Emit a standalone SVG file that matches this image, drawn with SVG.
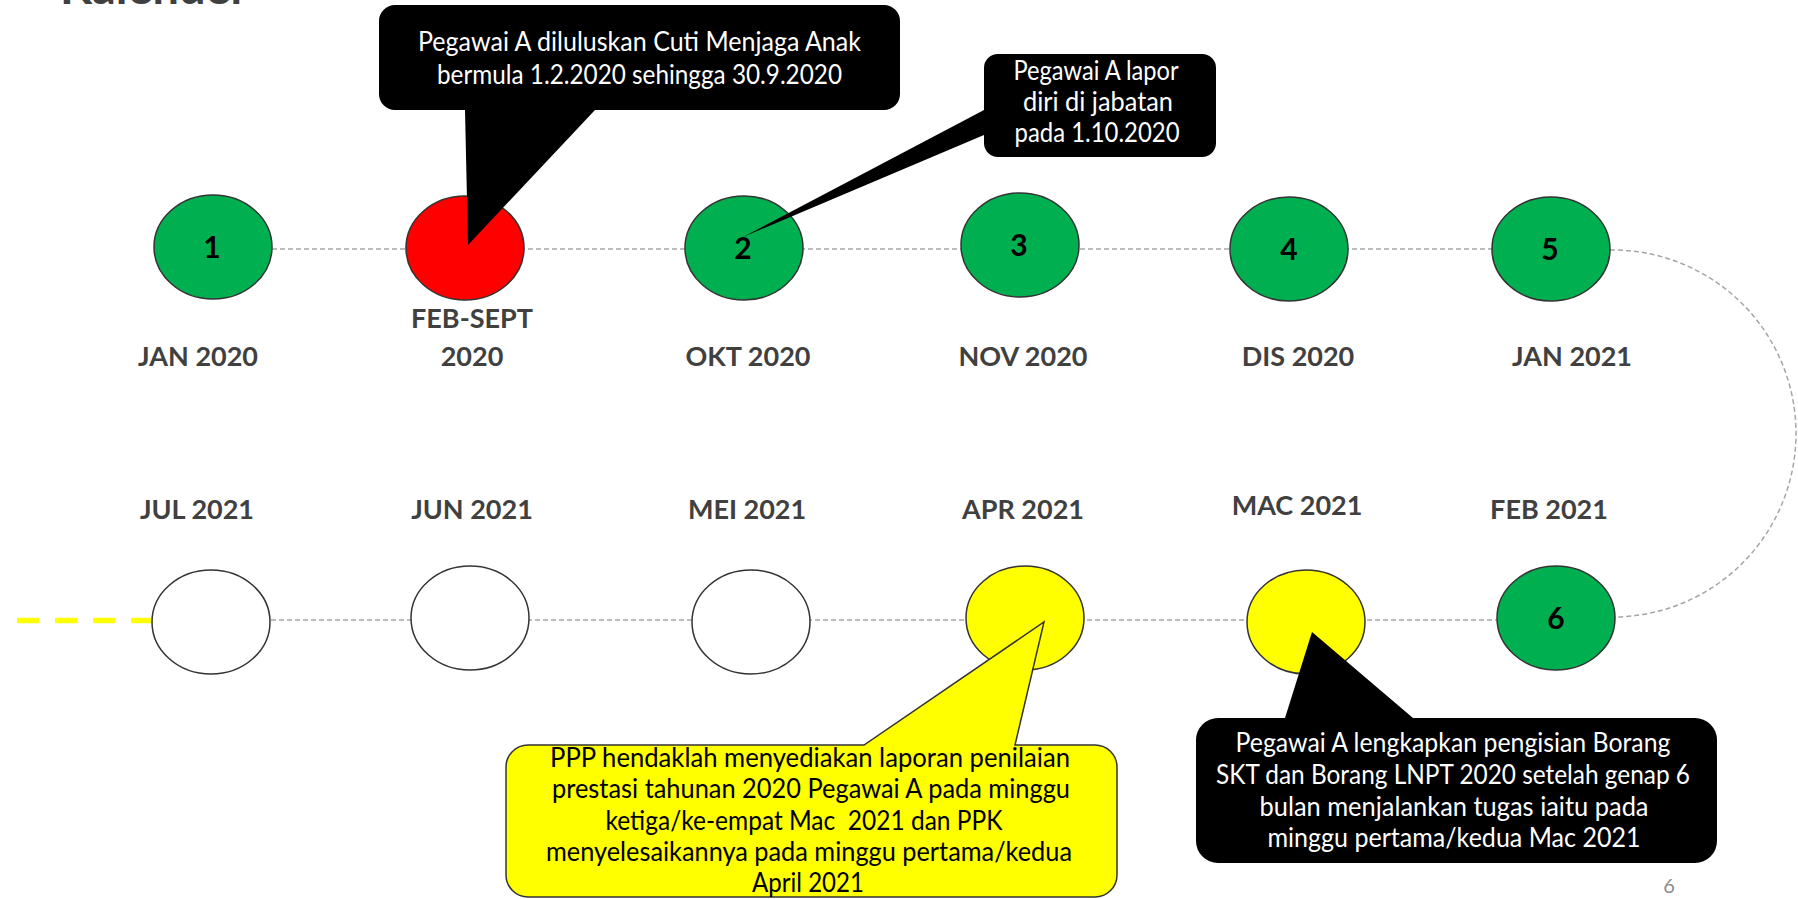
<svg xmlns="http://www.w3.org/2000/svg" width="1798" height="899" viewBox="0 0 1798 899">
<style>
.lbl{font-family:Lato,"Liberation Sans",sans-serif;font-weight:bold;font-size:27px;fill:#404040;text-anchor:middle}
.num{font-family:Lato,"Liberation Sans",sans-serif;font-weight:bold;font-size:30px;fill:#000;text-anchor:middle}
.ct{font-family:Lato,"Liberation Sans",sans-serif;font-size:26px;text-anchor:middle}
.w{fill:#fff}
.b{fill:#000}
.node{stroke:#333;stroke-width:1.5}
.g{fill:#00b050}
.dash{fill:none;stroke:#a6a6a6;stroke-width:1.5;stroke-dasharray:5 3}
</style>
<rect width="1798" height="899" fill="#fff"/>
<text x="60" y="4" font-family="Lato,'Liberation Sans',sans-serif" font-weight="bold" font-size="47" fill="#404040" textLength="188" lengthAdjust="spacingAndGlyphs">Kalender</text>
<g id="connectors">
<line class="dash" x1="272" y1="249" x2="1492" y2="249"/>
<line class="dash" x1="271" y1="620" x2="1497" y2="620"/>
<path class="dash" d="M1610,250 A150,150 0 0 1 1615,617" stroke-dasharray="7 4"/>
<line x1="17" y1="620.5" x2="152" y2="620.5" stroke="#ffff00" stroke-width="5.5" stroke-dasharray="22 16"/>
</g>
<g id="n1"><ellipse class="node g" cx="213" cy="247" rx="59" ry="52"/><text class="num" x="212" y="258">1</text><text class="lbl" x="198" y="366">JAN 2020</text></g>
<g id="nfeb"><ellipse class="node" fill="#ff0000" cx="465" cy="248" rx="59" ry="52"/><text class="lbl" x="472" y="328">FEB-SEPT</text><text class="lbl" x="472" y="366">2020</text></g>
<g id="n2"><ellipse class="node g" cx="744" cy="248" rx="59" ry="52"/><text class="num" x="743" y="259">2</text><text class="lbl" x="748" y="366">OKT 2020</text></g>
<g id="n3"><ellipse class="node g" cx="1020" cy="245" rx="59" ry="52"/><text class="num" x="1019" y="256">3</text><text class="lbl" x="1023" y="366">NOV 2020</text></g>
<g id="n4"><ellipse class="node g" cx="1289" cy="249" rx="59" ry="52"/><text class="num" x="1289" y="260">4</text><text class="lbl" x="1298" y="366">DIS 2020</text></g>
<g id="n5"><ellipse class="node g" cx="1551" cy="249" rx="59" ry="52"/><text class="num" x="1550" y="260">5</text><text class="lbl" x="1572" y="366">JAN 2021</text></g>
<g id="n6"><ellipse class="node g" cx="1556" cy="618" rx="59" ry="52"/><text class="num" x="1556" y="629">6</text><text class="lbl" x="1549" y="519">FEB 2021</text></g>
<g id="nmac"><ellipse class="node" fill="#ffff00" cx="1306" cy="622" rx="59" ry="52"/><text class="lbl" x="1297" y="515">MAC 2021</text></g>
<g id="napr"><ellipse class="node" fill="#ffff00" cx="1025" cy="618" rx="59" ry="52"/><text class="lbl" x="1023" y="519">APR 2021</text></g>
<g id="nmei"><ellipse class="node" fill="#fff" cx="751" cy="622" rx="59" ry="52"/><text class="lbl" x="747" y="519">MEI 2021</text></g>
<g id="njun"><ellipse class="node" fill="#fff" cx="470" cy="618" rx="59" ry="52"/><text class="lbl" x="472" y="519">JUN 2021</text></g>
<g id="njul"><ellipse class="node" fill="#fff" cx="211" cy="622" rx="59" ry="52"/><text class="lbl" x="197" y="519">JUL 2021</text></g>
<g id="callout1">
<path fill="#000" d="M395,5 L884,5 A16,16 0 0 1 900,21 L900,94 A16,16 0 0 1 884,110 L595,110 L468,245 L465,110 L395,110 A16,16 0 0 1 379,94 L379,21 A16,16 0 0 1 395,5 Z"/>
<text class="ct w" x="639.5" y="51" textLength="443" lengthAdjust="spacingAndGlyphs">Pegawai A diluluskan Cuti Menjaga Anak</text>
<text class="ct w" x="639.5" y="84" textLength="405" lengthAdjust="spacingAndGlyphs">bermula 1.2.2020 sehingga 30.9.2020</text>
</g>
<g id="callout2">
<path fill="#000" d="M998,54 L1202,54 A14,14 0 0 1 1216,68 L1216,143 A14,14 0 0 1 1202,157 L998,157 A14,14 0 0 1 984,143 L984,135 L743,237 L984,110 L984,68 A14,14 0 0 1 998,54 Z"/>
<text class="ct w" x="1096" y="80" textLength="165" lengthAdjust="spacingAndGlyphs">Pegawai A lapor</text>
<text class="ct w" x="1098" y="111" textLength="150" lengthAdjust="spacingAndGlyphs">diri di jabatan</text>
<text class="ct w" x="1097" y="142" textLength="165" lengthAdjust="spacingAndGlyphs">pada 1.10.2020</text>
</g>
<g id="callout3">
<path fill="#ffff00" stroke="#333" stroke-width="1.5" d="M528,745 L864,745 L1044,622 L1015,745 L1095,745 A22,22 0 0 1 1117,767 L1117,875 A22,22 0 0 1 1095,897 L528,897 A22,22 0 0 1 506,875 L506,767 A22,22 0 0 1 528,745 Z"/>
<text class="ct b" x="810" y="767" textLength="520" lengthAdjust="spacingAndGlyphs">PPP hendaklah menyediakan laporan penilaian</text>
<text class="ct b" x="811" y="798" textLength="518" lengthAdjust="spacingAndGlyphs">prestasi tahunan 2020 Pegawai A pada minggu</text>
<text class="ct b" x="804" y="830" textLength="397" lengthAdjust="spacingAndGlyphs" xml:space="preserve">ketiga/ke-empat Mac  2021 dan PPK</text>
<text class="ct b" x="809" y="861" textLength="526" lengthAdjust="spacingAndGlyphs">menyelesaikannya pada minggu pertama/kedua</text>
<text class="ct b" x="808" y="892" textLength="112" lengthAdjust="spacingAndGlyphs">April 2021</text>
</g>
<g id="callout4">
<path fill="#000" d="M1218,718 L1285,718 L1312,632 L1413,718 L1695,718 A22,22 0 0 1 1717,740 L1717,841 A22,22 0 0 1 1695,863 L1218,863 A22,22 0 0 1 1196,841 L1196,740 A22,22 0 0 1 1218,718 Z"/>
<text class="ct w" x="1453" y="752" textLength="435" lengthAdjust="spacingAndGlyphs">Pegawai A lengkapkan pengisian Borang</text>
<text class="ct w" x="1453" y="784" textLength="474" lengthAdjust="spacingAndGlyphs">SKT dan Borang LNPT 2020 setelah genap 6</text>
<text class="ct w" x="1454" y="816" textLength="389" lengthAdjust="spacingAndGlyphs">bulan menjalankan tugas iaitu pada</text>
<text class="ct w" x="1454" y="847" textLength="373" lengthAdjust="spacingAndGlyphs">minggu pertama/kedua Mac 2021</text>
</g>
<text x="1669" y="893" font-family="Lato,'Liberation Sans',sans-serif" font-size="20" fill="#8c8c8c" text-anchor="middle">6</text>
</svg>
